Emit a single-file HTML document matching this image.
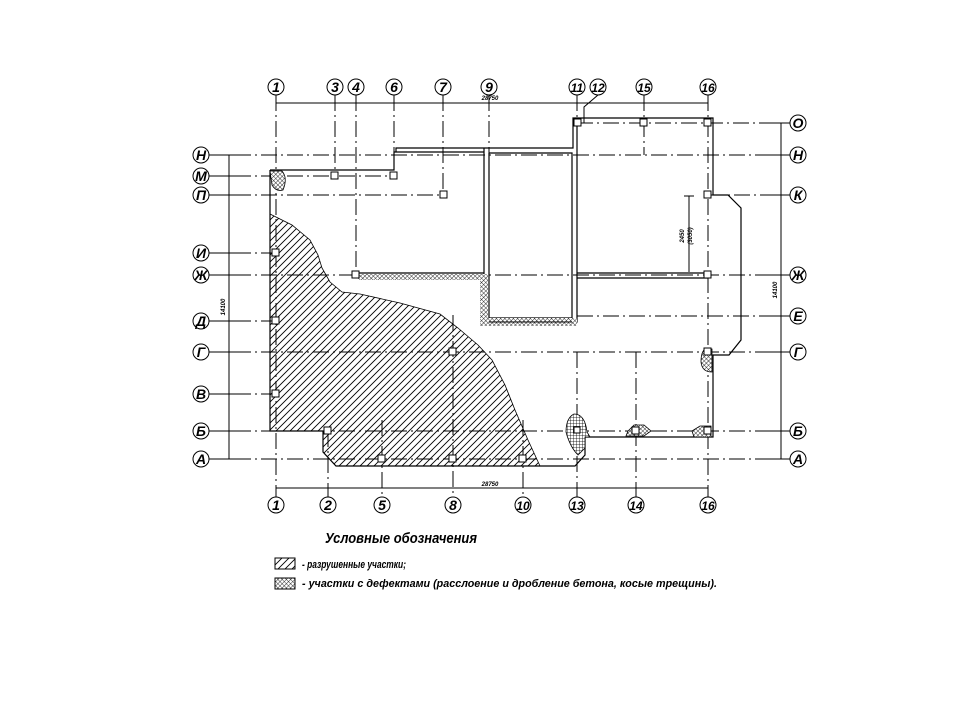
<!DOCTYPE html>
<html><head><meta charset="utf-8"><style>
html,body{margin:0;padding:0;background:#fff}
svg{display:block}
text{font-family:"Liberation Sans",sans-serif;font-style:italic;font-weight:bold;fill:#000}
</style></head><body>
<svg width="960" height="720" viewBox="0 0 960 720" xmlns="http://www.w3.org/2000/svg">
<defs>
<pattern id="hatch" width="7" height="7" patternUnits="userSpaceOnUse">
<path d="M-1 8 L8 -1 M-1 1 L1 -1 M6 8 L8 6" stroke="#000" stroke-width="0.9"/></pattern>
<pattern id="cross" width="3" height="3" patternUnits="userSpaceOnUse" patternTransform="rotate(45)">
<rect width="3" height="3" fill="#fff"/><path d="M0 0H3M0 0V3" stroke="#000" stroke-width="0.8"/></pattern>
<pattern id="grid" width="3" height="3" patternUnits="userSpaceOnUse">
<rect width="3" height="3" fill="#fff"/><path d="M0 0H3M0 0V3" stroke="#000" stroke-width="0.8"/></pattern>
</defs>

<path d="M270 214 L292 225 L310 240 L318 255 L322 268 L330 282 L342 292 L360 294 L400 303 L440 314 L458 328 L478 345 L492 360 L505 385 L515 410 L528 440 L540 466 L336 466 L323 452 L323 431 L270 431 Z" fill="url(#hatch)"/>
<path d="M270 214 L292 225 L310 240 L318 255 L322 268 L330 282 L342 292 L360 294 L400 303 L440 314 L458 328 L478 345 L492 360 L505 385 L515 410 L528 440 L540 466" fill="none" stroke="#000" stroke-width="0.8"/>

<g stroke="#000" stroke-width="1" stroke-dasharray="16 4 2 4" fill="none">
<path d="M209 155H790 M209 176H394 M209 195H443 M708 195H790 M577 123H790 M209 253H276 M209 275H790 M577 316H790 M209 321H276 M209 352H790 M209 394H276 M209 431H790 M209 459H790"/>
<path d="M276 95V497 M335 95V176 M356 95V275 M394 95V176 M443 95V195 M489 95V320 M577 95V123 M644 95V155 M708 95V497 M328 431V497 M382 420V497 M453 315V497 M523 420V497 M577 352V497 M636 352V497"/>
</g>
<path d="M209 155H240 M209 176H240 M209 195H240 M209 253H240 M209 275H240 M209 321H240 M209 352H240 M209 394H240 M209 431H240 M209 459H240 M760 123H790 M760 155H790 M760 195H790 M760 275H790 M760 316H790 M760 352H790 M760 431H790 M760 459H790" stroke="#000"/>
<path d="M598 95 L584 107 V123" stroke="#000" fill="none"/>

<g stroke="#000" stroke-width="1.2" fill="none">
<path d="M270 170H394V152H484 M270 170V431H323V452L336 466H575L585 455V437H713V355H729L741 340V208L728 195H713V118H573V148H484"/>
<path d="M484 148V322H577V148 M489 153V318H572V153H489 M396 152V148H484 M577 148V123"/>
<path d="M356 273H484 M577 273H708 M577 278H708"/>
</g>
<path d="M358 274H482V280H358Z M480 274H488V322H480Z M480 318H577V326H480Z" fill="url(#cross)"/>
<path d="M489 322H572" stroke="#000"/>

<g fill="#fff" stroke="#000" stroke-width="1">
<rect x="272" y="172" width="7" height="7"/><rect x="331" y="172" width="7" height="7"/><rect x="390" y="172" width="7" height="7"/>
<rect x="440" y="191" width="7" height="7"/><rect x="272" y="249" width="7" height="7"/><rect x="352" y="271" width="7" height="7"/>
<rect x="272" y="317" width="7" height="7"/><rect x="272" y="390" width="7" height="7"/><rect x="449" y="348" width="7" height="7"/>
<rect x="324" y="427" width="7" height="7"/><rect x="378" y="455" width="7" height="7"/><rect x="449" y="455" width="7" height="7"/>
<rect x="519" y="455" width="7" height="7"/><rect x="574" y="119" width="7" height="7"/><rect x="640" y="119" width="7" height="7"/>
<rect x="704" y="119" width="7" height="7"/><rect x="704" y="191" width="7" height="7"/><rect x="704" y="271" width="7" height="7"/>
</g>

<g fill="url(#cross)" stroke="#000" stroke-width="0.8">
<path d="M270 171 H282 Q288 178 283 190 Q276 192 272 185 Z"/>
<path d="M628 431 L634 425 H644 L651 431 L644 436 H626 Z"/>
<path d="M692 431 L700 426 H711 V437 H694 Z"/>
<path d="M705 349 H712 V372 Q702 372 701 362 Q701 352 705 349 Z"/>
</g>
<path d="M574 414 Q585 414 587 432 L590 437 H585 V448 L578 455 Q570 447 566 432 Q566 418 574 414 Z" fill="url(#grid)" stroke="#000" stroke-width="0.8"/>
<rect x="574" y="427" width="6" height="6" fill="#fff" stroke="#000"/>
<rect x="632" y="427" width="7" height="7" fill="#fff" stroke="#000"/>
<rect x="704" y="427" width="7" height="7" fill="#fff" stroke="#000"/>
<rect x="704" y="348" width="7" height="7" fill="#fff" stroke="#000"/>

<g stroke="#000" stroke-width="1" fill="none">
<path d="M276 103H708 M276 488H708 M229 155V459 M224 155H234 M781 123V459 M776 123H786 M689 196V272 M684 196H694"/>
</g>
<g font-size="6">
<text x="490" y="100" text-anchor="middle" font-style="normal">28750</text>
<text x="490" y="486" text-anchor="middle" font-style="normal">28750</text>
<text transform="translate(225,307) rotate(-90)" text-anchor="middle" font-style="normal">14100</text>
<text transform="translate(777,290) rotate(-90)" text-anchor="middle" font-style="normal">14100</text>
<text transform="translate(684,236) rotate(-90)" text-anchor="middle" font-style="normal">2450</text>
<text transform="translate(692,236) rotate(-90)" text-anchor="middle" font-style="normal">(3050)</text>
</g>

<g fill="#fff" stroke="#000" stroke-width="1">
<circle cx="276" cy="87" r="8"/><circle cx="335" cy="87" r="8"/><circle cx="356" cy="87" r="8"/><circle cx="394" cy="87" r="8"/><circle cx="443" cy="87" r="8"/><circle cx="489" cy="87" r="8"/><circle cx="577" cy="87" r="8"/><circle cx="598" cy="87" r="8"/><circle cx="644" cy="87" r="8"/><circle cx="708" cy="87" r="8"/>
<circle cx="276" cy="505" r="8"/><circle cx="328" cy="505" r="8"/><circle cx="382" cy="505" r="8"/><circle cx="453" cy="505" r="8"/><circle cx="523" cy="505" r="8"/><circle cx="577" cy="505" r="8"/><circle cx="636" cy="505" r="8"/><circle cx="708" cy="505" r="8"/>
<circle cx="201" cy="155" r="8"/><circle cx="201" cy="176" r="8"/><circle cx="201" cy="195" r="8"/><circle cx="201" cy="253" r="8"/><circle cx="201" cy="275" r="8"/><circle cx="201" cy="321" r="8"/><circle cx="201" cy="352" r="8"/><circle cx="201" cy="394" r="8"/><circle cx="201" cy="431" r="8"/><circle cx="201" cy="459" r="8"/>
<circle cx="798" cy="123" r="8"/><circle cx="798" cy="155" r="8"/><circle cx="798" cy="195" r="8"/><circle cx="798" cy="275" r="8"/><circle cx="798" cy="316" r="8"/><circle cx="798" cy="352" r="8"/><circle cx="798" cy="431" r="8"/><circle cx="798" cy="459" r="8"/>
</g>
<g font-size="14" text-anchor="middle">
<text x="276" y="92">1</text><text x="335" y="92">3</text><text x="356" y="92">4</text><text x="394" y="92">6</text><text x="443" y="92">7</text><text x="489" y="92">9</text><text x="577" y="92" font-size="12">11</text><text x="598" y="92" font-size="12">12</text><text x="644" y="92" font-size="12">15</text><text x="708" y="92" font-size="12">16</text>
<text x="276" y="510">1</text><text x="328" y="510">2</text><text x="382" y="510">5</text><text x="453" y="510">8</text><text x="523" y="510" font-size="12">10</text><text x="577" y="510" font-size="12">13</text><text x="636" y="510" font-size="12">14</text><text x="708" y="510" font-size="12">16</text>
<text x="201" y="160">Н</text><text x="201" y="181">М</text><text x="201" y="200">П</text><text x="201" y="258">И</text><text x="201" y="280">Ж</text><text x="201" y="326">Д</text><text x="201" y="357">Г</text><text x="201" y="399">В</text><text x="201" y="436">Б</text><text x="201" y="464">А</text>
<text x="798" y="128">О</text><text x="798" y="160">Н</text><text x="798" y="200">К</text><text x="798" y="280">Ж</text><text x="798" y="321">Е</text><text x="798" y="357">Г</text><text x="798" y="436">Б</text><text x="798" y="464">А</text>
</g>

<text x="325" y="543" font-size="15" textLength="152" lengthAdjust="spacingAndGlyphs">Условные обозначения</text>
<rect x="275" y="558" width="20" height="11" fill="url(#hatch)" stroke="#000"/>
<rect x="275" y="578" width="20" height="11" fill="url(#cross)" stroke="#000"/>
<text x="302" y="568" font-size="11" textLength="104" lengthAdjust="spacingAndGlyphs">- разрушенные участки;</text>
<text x="302" y="587" font-size="11" textLength="415" lengthAdjust="spacingAndGlyphs">- участки с дефектами (расслоение и дробление бетона, косые трещины).</text>
</svg>
</body></html>
